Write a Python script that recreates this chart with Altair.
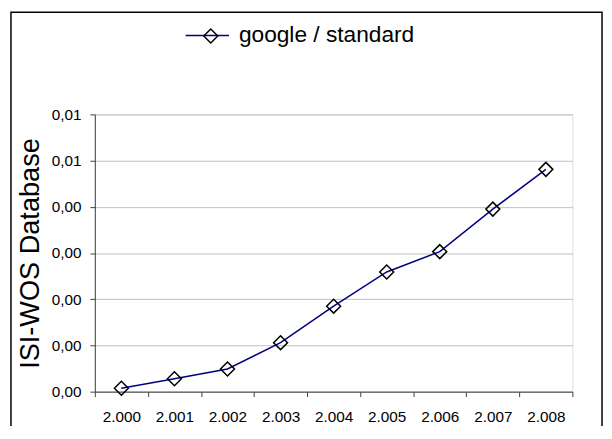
import altair as alt
import pandas as pd

years = [2000, 2001, 2002, 2003, 2004, 2005, 2006, 2007, 2008]
values = [0.000075, 0.00028, 0.00049, 0.00106, 0.00185, 0.00259, 0.00303, 0.00395, 0.00481]
series_name = "google / standard"
y_ticks = [0.0, 0.001, 0.002, 0.003, 0.004, 0.005, 0.006]
y_title = "ISI-WOS Database"

df = pd.DataFrame({
    "year": years,
    "value": values,
    "series": [series_name] * len(years),
    "series2": [series_name] * len(years),
})

FONT = "Liberation Sans"

x_enc = alt.X(
    "year:O",
    bandPosition=0.5,
    scale=alt.Scale(type="band", paddingInner=0, paddingOuter=0),
    axis=alt.Axis(
        title=None,
        tickBand="extent",
        grid=False,
        labelAngle=0,
        labelFont=FONT,
        labelFontSize=15.5,
        labelColor="black",
        labelPadding=13,
        tickSize=5,
        tickColor="#404040",
        domainColor="#404040",
        labelExpr="isValid(datum.value) ? replace(format(datum.value, ','), ',', '.') : ''",
    ),
)
y_enc = alt.Y(
    "value:Q",
    scale=alt.Scale(domain=[0, 0.006], nice=False),
    axis=alt.Axis(
        title=y_title,
        values=y_ticks,
        labelExpr="replace(format(datum.value + 1e-9, '.2f'), '.', ',')",
        labelFont=FONT,
        labelFontSize=15.5,
        labelColor="black",
        labelPadding=9,
        tickSize=5,
        tickColor="#404040",
        domainColor="#404040",
        gridColor="#c0c0c0",
        titleFont=FONT,
        titleFontSize=27.5,
        titleFontWeight="normal",
        titleColor="black",
        titlePadding=7,
    ),
)

base = alt.Chart(df)

line = base.mark_line(strokeWidth=1.5).encode(
    x=x_enc,
    y=y_enc,
    color=alt.Color(
        "series:N",
        scale=alt.Scale(range=["#000080"]),
        legend=alt.Legend(
            title=None,
            orient="none",
            legendX=91,
            legendY=-103,
            symbolType="stroke",
            symbolSize=1936,
            symbolStrokeWidth=1.5,
            labelFont=FONT,
            labelFontSize=23,
            labelColor="black",
            labelOffset=9,
            labelLimit=0,
            padding=0,
        ),
    ),
)

points = base.mark_point(filled=False, color="black", size=200, strokeWidth=1.5, opacity=1).encode(
    x=x_enc,
    y=y_enc,
    shape=alt.Shape(
        "series2:N",
        scale=alt.Scale(range=["diamond"]),
        legend=alt.Legend(
            title=None,
            orient="none",
            legendX=106,
            legendY=-91,
            symbolSize=200,
            symbolStrokeColor="black",
            symbolFillColor="transparent",
            symbolStrokeWidth=1.5,
            labelExpr="''",
            labelFontSize=23,
            padding=0,
        ),
    ),
)

frame = alt.Chart(pd.DataFrame({"f": [0]})).mark_rect(
    fill="transparent", stroke="black", strokeWidth=1.5
).encode(
    x=alt.value(-85), x2=alt.value(514), y=alt.value(-103.5), y2=alt.value(335)
)

chart = alt.layer(frame, line, points).resolve_legend(shape="independent", color="independent").properties(
    width=484,
    height=281,
    autosize=alt.AutoSizeParams(type="none"),
    padding={"left": 88, "top": 105, "right": 32, "bottom": 32},
).configure_view(stroke=None).configure(background="white")

chart.save("out.html", embed_options={"renderer": "svg", "actions": False})
